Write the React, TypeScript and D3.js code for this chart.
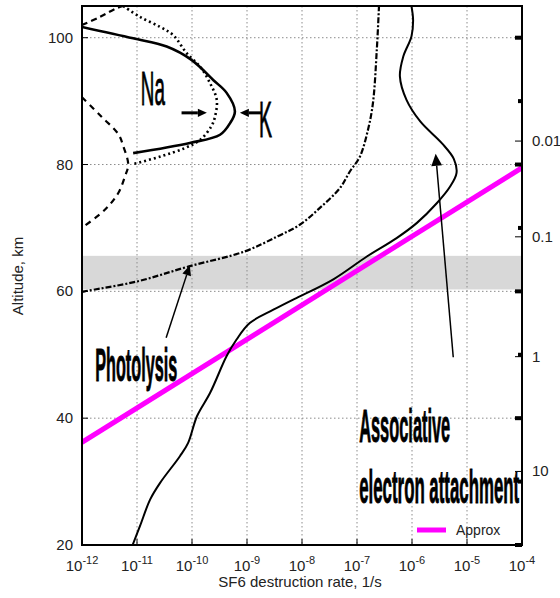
import React from 'react';
import * as d3 from 'd3';

// curves as [log10(rate), altitude km]
const attachCurve = [
  [-11.08, 20], [-10.945, 23.0], [-10.76, 27.2], [-10.58, 29.8], [-10.22, 34.0],
  [-10.07, 36.1], [-9.91, 40.3], [-9.67, 44.0], [-9.37, 49.8], [-9.19, 52.4],
  [-8.95, 55.0], [-8.52, 57.1], [-8.16, 58.7], [-8.04, 59.2], [-7.43, 61.9],
  [-6.82, 65.5], [-6.28, 68.4], [-5.91, 70.8], [-5.55, 73.9], [-5.31, 76.5],
  [-5.19, 78.7], [-5.24, 80.9], [-5.45, 83.3], [-5.85, 86.8],
  [-6.10, 90.2], [-6.22, 93.9], [-6.16, 97.0], [-6.01, 100.2], [-5.98, 102.8],
  [-6.01, 105],
];
const photolysisCurve = [
  [-12.0, 59.9], [-11.95, 60.0], [-10.98, 61.6], [-10.07, 63.9], [-9.04, 66.3],
  [-8.44, 68.7], [-8.04, 70.5], [-7.67, 73.2], [-7.31, 76.3], [-7.13, 78.9],
  [-6.95, 81.2], [-6.80, 85.5], [-6.71, 89.7], [-6.64, 98.1], [-6.60, 105],
];
const solidLayer = [
  [-12.0, 101.7], [-11.07, 99.9], [-10.46, 98.6], [-10.01, 96.5], [-9.61, 93.3],
  [-9.37, 91.3], [-9.22, 88.4], [-9.31, 86.5], [-9.49, 84.7], [-10.04, 83.4],
  [-11.07, 81.8],
];
const dottedLayer = [
  [-11.25, 105], [-10.95, 103.3], [-10.58, 101.7], [-10.34, 100.4], [-10.10, 97.6],
  [-9.85, 95.4], [-9.67, 92.8], [-9.55, 90.2], [-9.58, 87.6], [-9.65, 86.0],
  [-9.85, 83.9], [-10.13, 82.6], [-10.56, 81.3], [-11.10, 80.0],
];
const dashedTop = [
  [-12.0, 102.0], [-11.67, 103.3], [-11.36, 104.7], [-11.25, 105],
];
const dashedLeft = [
  [-12.0, 90.6], [-11.64, 87.5], [-11.34, 84.8], [-11.25, 82.9], [-11.16, 80.0],
  [-11.22, 78.1], [-11.34, 75.5], [-11.58, 72.9], [-11.97, 70.2], [-12.0, 70.0],
];
const approxLine = [[-12, 36.2], [-4, 79.5]];
const bandRange = [60.3, 65.6];

const xExponents = [-12, -11, -10, -9, -8, -7, -6, -5, -4];
const yTicks = [20, 40, 60, 80, 100];
const yMirrorTicks = [20, 30, 40, 50, 60, 70, 80, 90, 100];
const pressureLabels = ['0.01', '0.1', '1', '10'];
const pressureAlt = [83.7, 68.6, 49.7, 31.6];

const W = 560;
const H = 598;
const left = 82, right = 522, top = 6, bottom = 545;
const font = 'Liberation Sans, Arial, Helvetica, sans-serif';

const x = d3.scaleLog().domain([1e-12, 1e-4]).range([left, right]);
const y = d3.scaleLinear().domain([20, 105]).range([bottom, top]);

const px = (p: number[]) => x(Math.pow(10, p[0]));
const py = (p: number[]) => y(p[1]);

const smooth = d3.line<number[]>().x(px).y(py).curve(d3.curveCatmullRom.alpha(0.5));
const straight = d3.line<number[]>().x(px).y(py);

function Arrow({from, to, width, head}: {from: number[]; to: number[]; width: number; head: number}) {
  const x1 = px(from), y1 = py(from), x2 = px(to), y2 = py(to);
  const ang = Math.atan2(y2 - y1, x2 - x1);
  const bx = x2 - head * Math.cos(ang), by = y2 - head * Math.sin(ang);
  const hw = head * 0.45;
  const pts = [
    [x2, y2],
    [bx + hw * Math.sin(ang), by - hw * Math.cos(ang)],
    [bx - hw * Math.sin(ang), by + hw * Math.cos(ang)],
  ];
  return (
    <g>
      <line x1={x1} y1={y1} x2={bx} y2={by} stroke="black" strokeWidth={width} />
      <polygon points={pts.map((p) => p.join(',')).join(' ')} fill="black" />
    </g>
  );
}

const heavy = {stroke: 'black', strokeWidth: 0.9, lengthAdjust: 'spacingAndGlyphs' as const};

export default function App() {
  const clip = 'plotclip';
  return (
    <svg width={W} height={H} style={{position: 'absolute', left: 0, top: 0}} fontFamily={font}>
      <defs>
        <clipPath id={clip}>
          <rect x={left} y={top} width={right - left} height={bottom - top} />
        </clipPath>
      </defs>
      <rect x={0} y={0} width={W} height={H} fill="white" />

      {/* shaded band */}
      <rect
        x={left}
        width={right - left}
        y={y(bandRange[1])}
        height={y(bandRange[0]) - y(bandRange[1])}
        fill="#d8d8d8"
      />

      {/* grid */}
      {xExponents.slice(1, -1).map((e) => (
        <line key={'gx' + e} x1={x(Math.pow(10, e))} x2={x(Math.pow(10, e))} y1={top} y2={bottom}
          stroke="#8c8c8c" strokeWidth={1} strokeDasharray="1.5,2.5" />
      ))}
      {yTicks.slice(1).map((t) => (
        <line key={'gy' + t} x1={left} x2={right} y1={y(t)} y2={y(t)}
          stroke="#8c8c8c" strokeWidth={1} strokeDasharray="1.5,2.5" />
      ))}

      <g clipPath={`url(#${clip})`} fill="none">
        <path d={straight(approxLine)!} stroke="#ff00ff" strokeWidth={5} />
        <path d={smooth(attachCurve)!} stroke="black" strokeWidth={2} />
        <path d={smooth(photolysisCurve)!} stroke="black" strokeWidth={2.2} strokeDasharray="6,2,2,2" />
        <path d={smooth(solidLayer)!} stroke="black" strokeWidth={2.6} />
        <path d={smooth(dottedLayer)!} stroke="black" strokeWidth={2.6} strokeDasharray="2,3" />
        <path d={smooth(dashedTop)!} stroke="black" strokeWidth={2.2} strokeDasharray="6,4" />
        <path d={smooth(dashedLeft)!} stroke="black" strokeWidth={2.2} strokeDasharray="6,5" />
      </g>

      {/* annotations */}
      <text x={px([-10.93])} y={py([0, 89.4])} fontSize={48} textLength={24} {...heavy}>Na</text>
      <text x={px([-8.78])} y={py([0, 84.4])} fontSize={50} textLength={13} {...heavy}>K</text>
      <Arrow from={[-10.19, 88.15]} to={[-9.73, 88.15]} width={3} head={9} />
      <Arrow from={[-8.73, 88.15]} to={[-9.13, 88.15]} width={3} head={9} />
      <text x={px([-11.76])} y={py([0, 45.8])} fontSize={46} fontWeight="bold" textLength={82} {...heavy}>Photolysis</text>
      <Arrow from={[-10.47, 52.7]} to={[-10.04, 64.1]} width={1.5} head={10} />
      <text x={px([-6.96])} y={py([0, 36.3])} fontSize={47} fontWeight="bold" textLength={91} {...heavy}>Associative</text>
      <text x={px([-6.96])} y={py([0, 26.7])} fontSize={47} fontWeight="bold" textLength={160} {...heavy}>electron attachment</text>
      <Arrow from={[-5.25, 49.6]} to={[-5.57, 81.7]} width={1.5} head={12} />

      {/* legend */}
      <line x1={417} x2={446} y1={530} y2={530} stroke="#ff00ff" strokeWidth={5} />
      <text x={456} y={535} fontSize={14} fill="#222">Approx</text>

      {/* frame */}
      <rect x={left} y={top} width={right - left} height={bottom - top} fill="none" stroke="black" strokeWidth={2} />

      {/* ticks */}
      {xExponents.map((e) => (
        <g key={'xt' + e}>
          <line x1={x(Math.pow(10, e))} x2={x(Math.pow(10, e))} y1={bottom} y2={bottom - 6} stroke="black" strokeWidth={1} />
          <text x={x(Math.pow(10, e))} y={571} fontSize={15} textAnchor="middle" fill="#222">
            10<tspan dy={-7} fontSize={11}>{e}</tspan>
          </text>
        </g>
      ))}
      {yTicks.map((t) => (
        <g key={'yt' + t}>
          <line x1={left} x2={left + 6} y1={y(t)} y2={y(t)} stroke="black" strokeWidth={1} />
          <text x={73} y={y(t) + 5} fontSize={15} textAnchor="end" fill="#222">{t}</text>
        </g>
      ))}
      {yMirrorTicks.map((t) => (
        <rect key={'ym' + t} x={right - (t % 20 === 0 ? 7 : 4)} y={y(t) - 2} width={t % 20 === 0 ? 7 : 4} height={4} fill="black" />
      ))}
      {pressureLabels.map((l, i) => (
        <g key={'p' + l}>
          <line x1={right - 7} x2={right} y1={y(pressureAlt[i])} y2={y(pressureAlt[i])} stroke="black" strokeWidth={1} />
          <text x={532} y={y(pressureAlt[i]) + 5} fontSize={15} fill="#222">{l}</text>
        </g>
      ))}

      {/* axis titles */}
      <text x={300} y={587} fontSize={15} textAnchor="middle" fill="#222">SF6 destruction rate, 1/s</text>
      <text transform="translate(23,276) rotate(-90)" fontSize={15} textAnchor="middle" fill="#222">Altitude, km</text>
    </svg>
  );
}
